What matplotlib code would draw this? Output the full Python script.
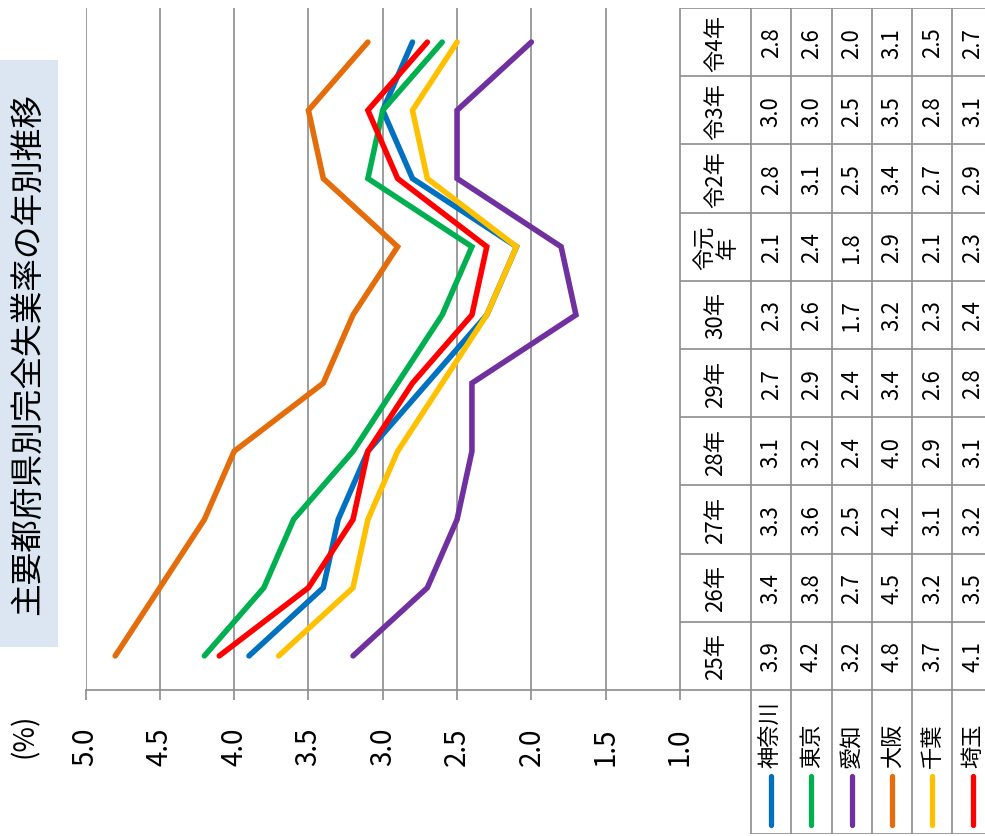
import matplotlib
matplotlib.use("Agg")
import matplotlib.pyplot as plt
from matplotlib.patches import Rectangle

plt.rcParams['font.family'] = ['Noto Sans CJK JP', 'DejaVu Sans']

W, H = 985, 837
GRID = '#8c8c8c'

years = ['25年', '26年', '27年', '28年', '29年', '30年', '令元\n年', '令2年', '令3年', '令4年']
prefs = ['神奈川', '東京', '愛知', '大阪', '千葉', '埼玉']
colors = ['#0070C0', '#00B050', '#7030A0', '#E46C0A', '#FFC000', '#FF0000']
kanagawa = [3.9, 3.4, 3.3, 3.1, 2.7, 2.3, 2.1, 2.8, 3.0, 2.8]
tokyo = [4.2, 3.8, 3.6, 3.2, 2.9, 2.6, 2.4, 3.1, 3.0, 2.6]
aichi = [3.2, 2.7, 2.5, 2.4, 2.4, 1.7, 1.8, 2.5, 2.5, 2.0]
osaka = [4.8, 4.5, 4.2, 4.0, 3.4, 3.2, 2.9, 3.4, 3.5, 3.1]
chiba = [3.7, 3.2, 3.1, 2.9, 2.6, 2.3, 2.1, 2.7, 2.8, 2.5]
saitama = [4.1, 3.5, 3.2, 3.1, 2.8, 2.4, 2.3, 2.9, 3.1, 2.7]
series = [kanagawa, tokyo, aichi, osaka, chiba, saitama]
xticks = [5.0, 4.5, 4.0, 3.5, 3.0, 2.5, 2.0, 1.5, 1.0]


def box(x0, y0, x1, y1):
    # pixel box (top-left origin) -> figure fraction rect
    return [x0 / W, 1 - y1 / H, (x1 - x0) / W, (y1 - y0) / H]


fig = plt.figure(figsize=(W / 100, H / 100), dpi=100)

# main chart (value runs left->right from 5.0 to 1.0, years bottom->top)
ax = fig.add_axes(box(85.5, 9, 680, 691))
pos = list(range(len(years)))
for vals, c in zip(series, colors):
    ax.plot(vals, pos, color=c, lw=4.0, solid_capstyle='round',
            solid_joinstyle='miter', zorder=3)
ax.set_xlim(5.0, 1.0)
ax.set_ylim(-0.5, len(years) - 0.5)
ax.set_xticks(xticks)
ax.set_xticklabels([f'{v:.1f}' for v in xticks], rotation=90, fontsize=20)
ax.set_yticks([])
ax.grid(axis='x', color=GRID, lw=1.2)
for s in ['top', 'left', 'right']:
    ax.spines[s].set_visible(False)
ax.spines['bottom'].set_color(GRID)
ax.spines['bottom'].set_linewidth(1.2)
ax.tick_params(axis='x', direction='out', length=7.5, width=1.2,
               color=GRID, pad=19)

# data table
tab = fig.add_axes(box(680, 9, 680 + 71 + 6 * 40.3, 835))
hw = 71 / 40.3
ybot = -0.5 - 144 / 68.2
tab.set_xlim(-hw, len(prefs))
tab.set_ylim(ybot, len(years) - 0.5)
tab.axis('off')
for i in range(len(years) + 1):
    tab.plot([-hw, len(prefs)], [i - 0.5, i - 0.5], color=GRID, lw=1.2)
tab.plot([-hw, -hw], [-0.5, len(years) - 0.5], color=GRID, lw=1.2)
for j in range(len(prefs) + 1):
    tab.plot([j, j], [ybot, len(years) - 0.5], color=GRID, lw=1.2)
tab.plot([0, len(prefs)], [ybot, ybot], color=GRID, lw=1.2)
for i, y in enumerate(years):
    tab.text(-hw / 2, i, y, rotation=90, ha='center', va='center',
             fontsize=16, multialignment='center', linespacing=1.0)
    for j, vals in enumerate(series):
        tab.text(j + 0.5, i, f'{vals[i]:.1f}', rotation=90, ha='center',
                 va='center', fontsize=16)
for j, (p, c) in enumerate(zip(prefs, colors)):
    tab.text(j + 0.5, -1.63, p, rotation=90, ha='center', va='bottom',
             fontsize=16)
    tab.plot([j + 0.5, j + 0.5], [-1.76, -2.48], color=c, lw=3.8,
             solid_capstyle='round')

# title box
fig.add_artist(Rectangle((0, 1 - 648 / H), 58 / W, (648 - 61) / H,
                         transform=fig.transFigure, color='#dce6f2', lw=0))
fig.text(28 / W, 1 - 354 / H, '主要都府県別完全失業率の年別推移', rotation=90,
         ha='center', va='center', fontsize=23.5)
fig.text(25 / W, 1 - 736 / H, '(%)', rotation=90, ha='center',
         va='center', fontsize=20)

fig.savefig('out.png', dpi=100)
